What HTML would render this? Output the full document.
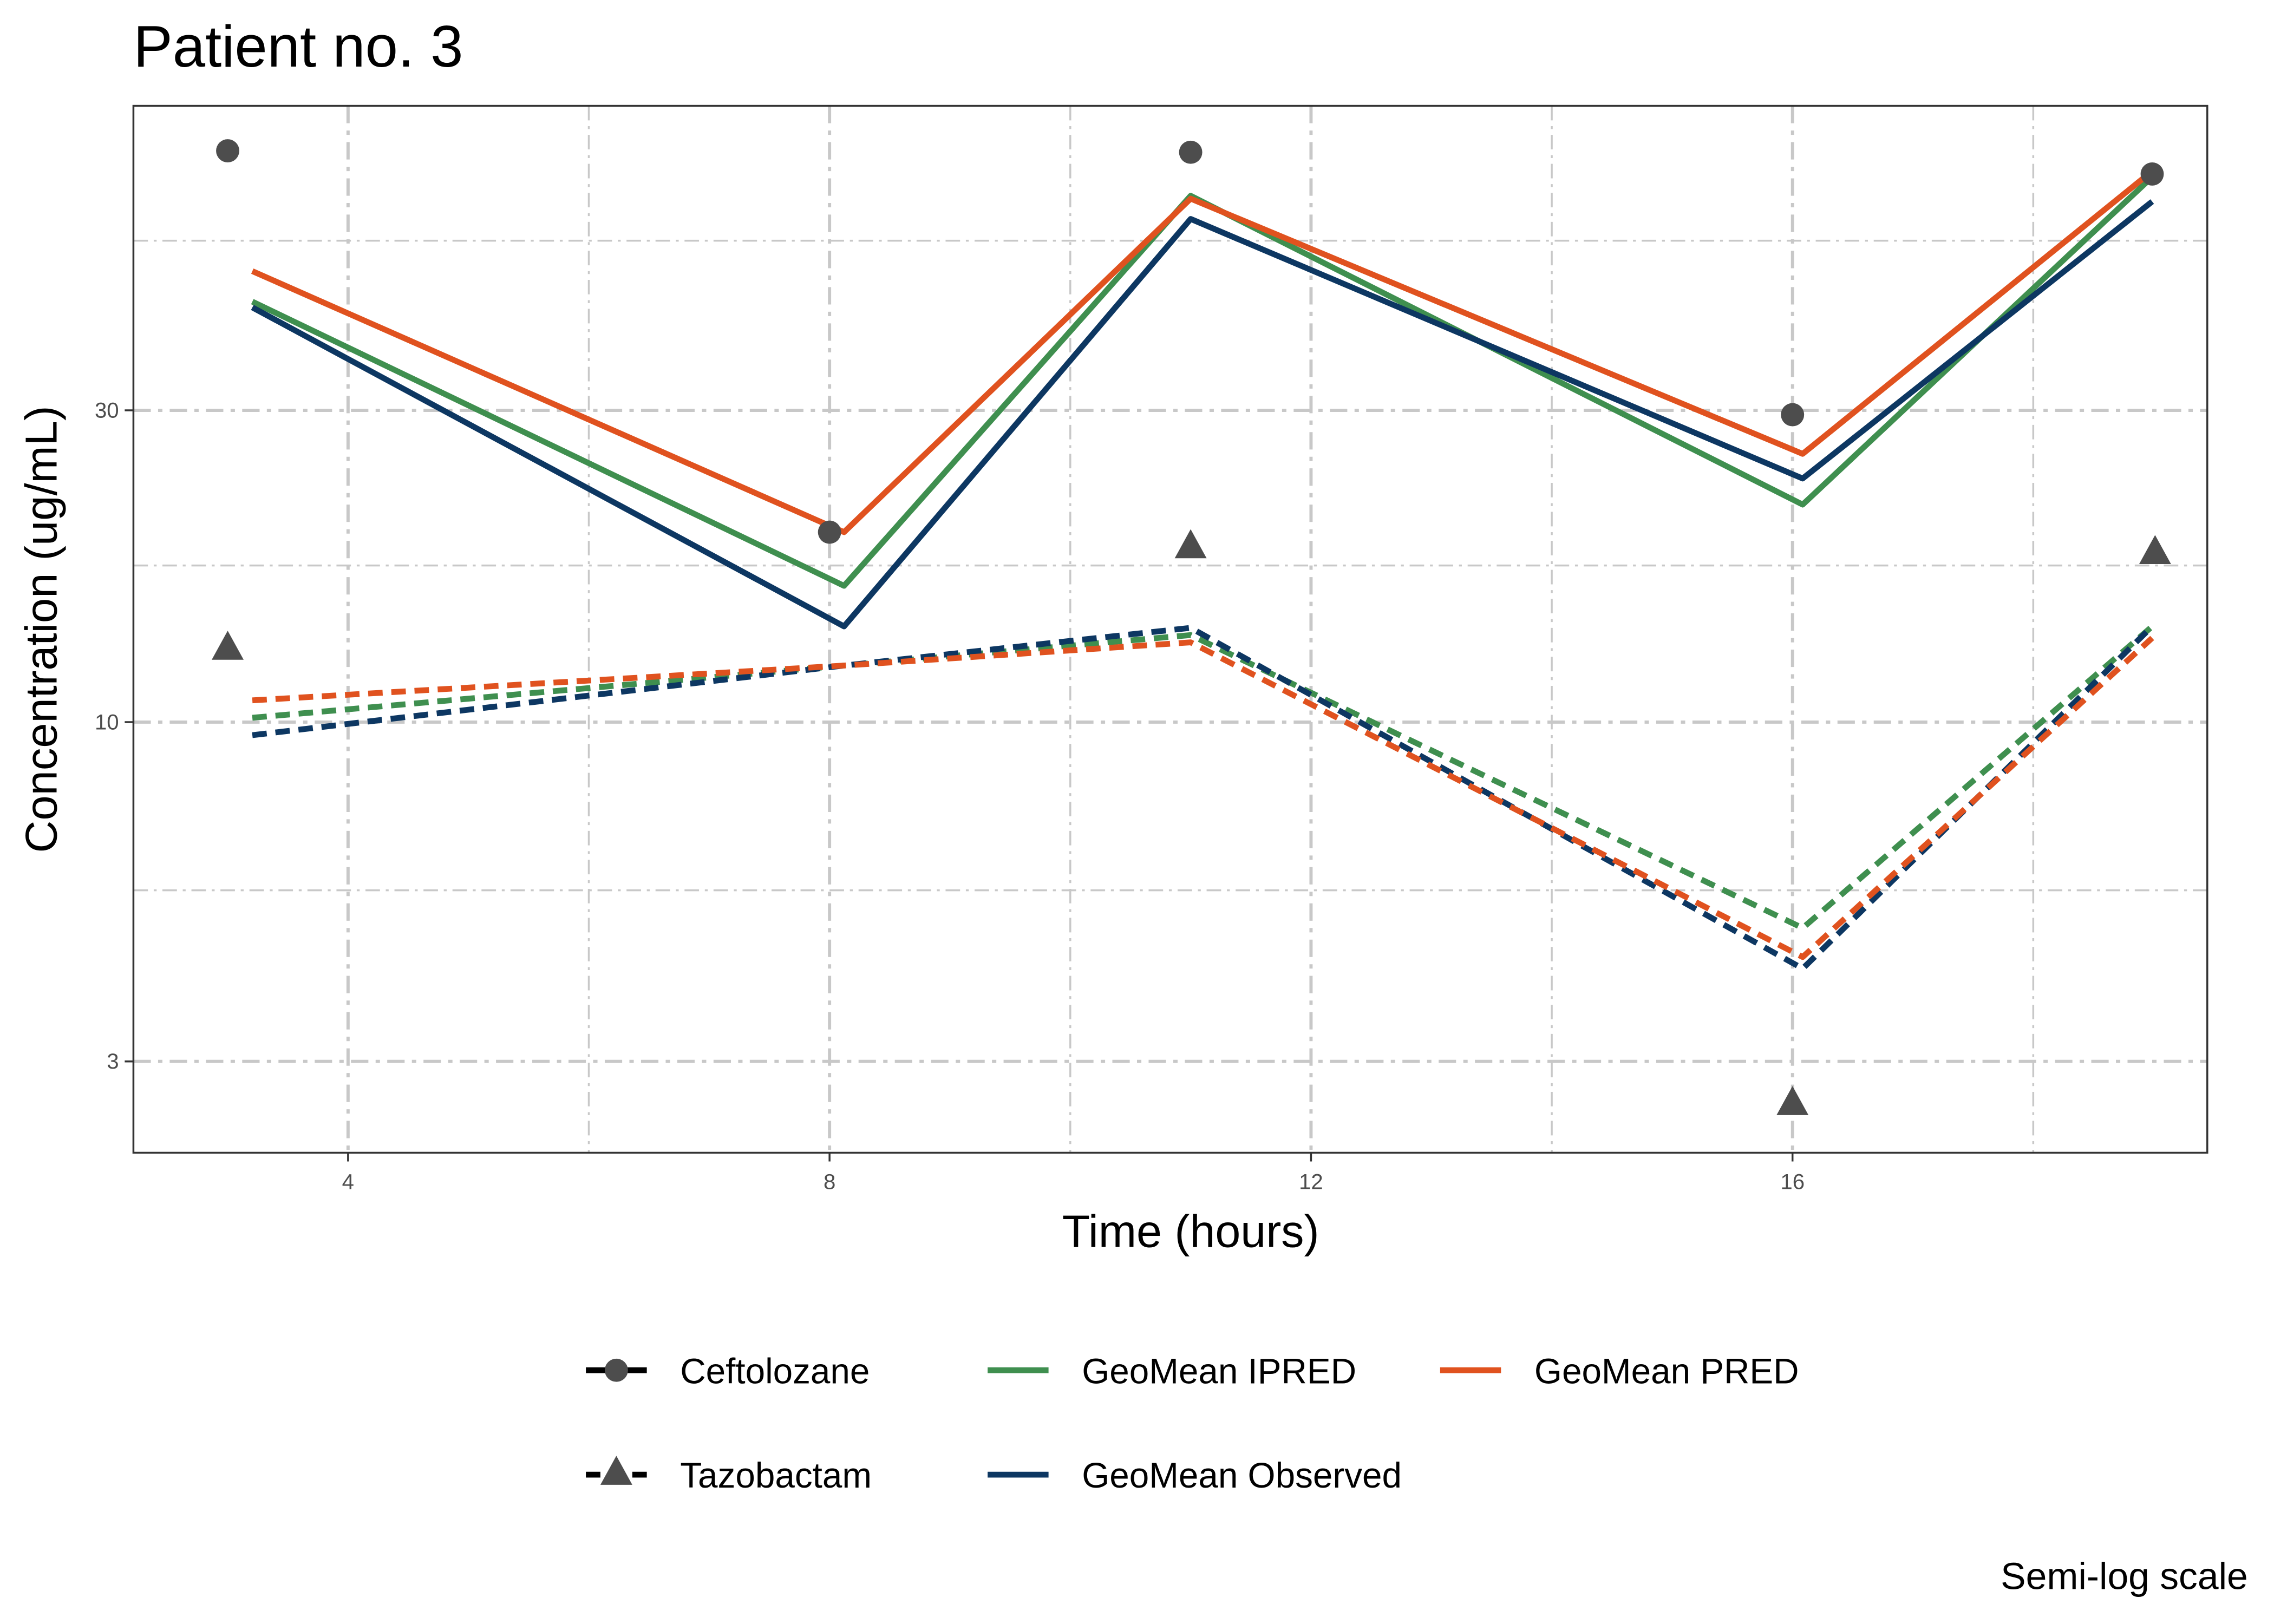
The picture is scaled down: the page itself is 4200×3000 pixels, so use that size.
<!DOCTYPE html>
<html><head><meta charset="utf-8"><style>html,body{margin:0;padding:0;background:#fff}svg{display:block}</style></head>
<body>
<svg width="4200" height="3000" viewBox="0 0 1568 1120" xmlns="http://www.w3.org/2000/svg" font-family="Liberation Sans, Arial, sans-serif">
<rect width="1568" height="1120" fill="#fff"/>
<text x="92" y="46" font-size="40.5" fill="#000">Patient no. 3</text>
<g stroke="#c8c8c8" stroke-width="1.3" stroke-dasharray="10,4,2,4">
<line x1="92" x2="1522" y1="166" y2="166"/><line x1="92" x2="1522" y1="390" y2="390"/><line x1="92" x2="1522" y1="614" y2="614"/>
<line x1="406" x2="406" y1="73" y2="795"/><line x1="738" x2="738" y1="73" y2="795"/><line x1="1070" x2="1070" y1="73" y2="795"/><line x1="1402" x2="1402" y1="73" y2="795"/>
</g>
<g stroke="#c8c8c8" stroke-width="2.2" stroke-dasharray="12,5,3,5">
<line x1="92" x2="1522" y1="283" y2="283"/><line x1="92" x2="1522" y1="498" y2="498"/><line x1="92" x2="1522" y1="732" y2="732"/>
<line x1="240" x2="240" y1="73" y2="795"/><line x1="572" x2="572" y1="73" y2="795"/><line x1="904" x2="904" y1="73" y2="795"/><line x1="1236" x2="1236" y1="73" y2="795"/>
</g>
<g fill="none" stroke-width="4" stroke-linejoin="round">
<polyline stroke="#3f8f4f" points="174,208 582,404 821,135 1243,348 1484,122"/>
<polyline stroke="#0d3762" points="174,212 582,432 821,151 1243,330 1484,139"/>
<polyline stroke="#e0521f" points="174,187 582,367 821,137 1243,313 1484,118"/>
<g stroke-dasharray="10,6">
<polyline stroke="#3f8f4f" points="174,495 582,459 821,438 1243,640 1484,432"/>
<polyline stroke="#0d3762" points="174,507 582,459 821,433 1243,668 1484,432"/>
<polyline stroke="#e0521f" points="174,483 582,459 821,443 1243,660 1484,440"/>
</g></g>
<g fill="#4d4d4d">
<circle cx="157" cy="104" r="8"/><circle cx="572" cy="367" r="8"/><circle cx="821" cy="105" r="8"/><circle cx="1236" cy="286" r="8"/><circle cx="1484" cy="120" r="8"/>
<polygon points="157,435 146,455 168,455"/><polygon points="821,365 810,385 832,385"/><polygon points="1236,749 1225,769 1247,769"/><polygon points="1486,369 1475,389 1497,389"/>
</g>
<rect x="92" y="73" width="1430" height="722" fill="none" stroke="#333" stroke-width="1.3"/>
<g stroke="#333" stroke-width="1.3">
<line x1="86" x2="92" y1="283" y2="283"/><line x1="86" x2="92" y1="498" y2="498"/><line x1="86" x2="92" y1="732" y2="732"/>
<line x1="240" x2="240" y1="795" y2="801"/><line x1="572" x2="572" y1="795" y2="801"/><line x1="904" x2="904" y1="795" y2="801"/><line x1="1236" x2="1236" y1="795" y2="801"/>
</g>
<g font-size="15" fill="#4d4d4d">
<text x="82" y="288" text-anchor="end">30</text><text x="82" y="503" text-anchor="end">10</text><text x="82" y="737" text-anchor="end">3</text>
<text x="240" y="820" text-anchor="middle">4</text><text x="572" y="820" text-anchor="middle">8</text><text x="904" y="820" text-anchor="middle">12</text><text x="1236" y="820" text-anchor="middle">16</text>
</g>
<text x="821" y="860" font-size="31.5" text-anchor="middle">Time (hours)</text>
<text transform="translate(39,434) rotate(-90)" font-size="31" text-anchor="middle">Concentration (ug/mL)</text>
<g font-size="24.5" fill="#000">
<line x1="404" x2="446" y1="945" y2="945" stroke="#000" stroke-width="4"/><circle cx="425" cy="945" r="8" fill="#4d4d4d"/>
<text x="469" y="954">Ceftolozane</text>
<line x1="404" x2="446" y1="1017" y2="1017" stroke="#000" stroke-width="4" stroke-dasharray="10,6"/><polygon points="425,1004 414,1024 436,1024" fill="#4d4d4d"/>
<text x="469" y="1026">Tazobactam</text>
<line x1="681" x2="723" y1="945" y2="945" stroke="#3f8f4f" stroke-width="4"/><text x="746" y="954">GeoMean IPRED</text>
<line x1="681" x2="723" y1="1017" y2="1017" stroke="#0d3762" stroke-width="4"/><text x="746" y="1026">GeoMean Observed</text>
<line x1="993" x2="1035" y1="945" y2="945" stroke="#e0521f" stroke-width="4"/><text x="1058" y="954">GeoMean PRED</text>
</g>
<text x="1550" y="1096" font-size="26" text-anchor="end">Semi-log scale</text>
</svg>
</body></html>
